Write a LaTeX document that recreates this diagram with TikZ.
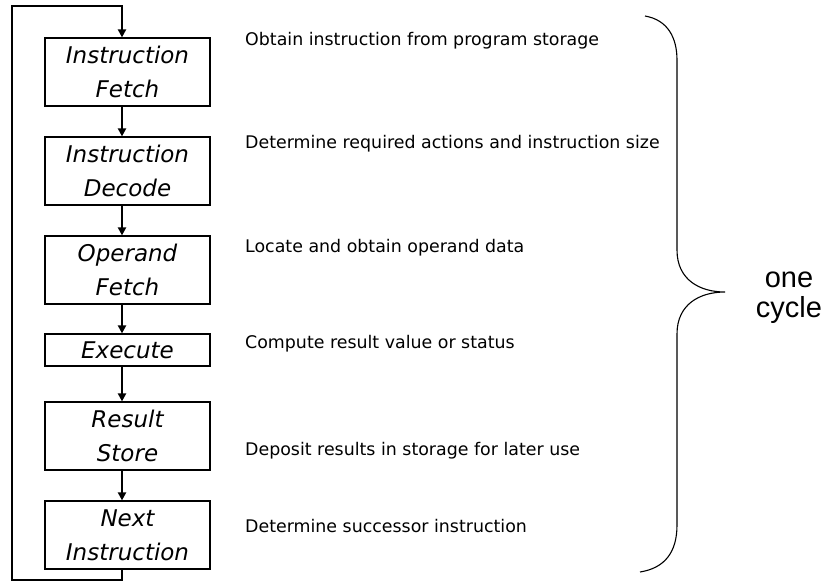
\documentclass[tikz,border=0pt]{standalone}
\usepackage{fontspec}
\setmainfont{DejaVu Sans}
\newfontfamily\armfont{Liberation Sans}
\usetikzlibrary{arrows.meta}
\begin{document}
\begin{tikzpicture}[x=1pt,y=-1pt,
  stagebox/.style={draw=black,line width=1.2pt,minimum width=165pt,inner sep=0pt,align=center,
    font=\fontsize{23}{34}\selectfont\itshape},
  flow/.style={line width=2pt,-{Triangle[length=8pt,width=8pt]}},
  desc/.style={anchor=base west,inner sep=0pt,font=\fontsize{17.4}{20}\selectfont}]
\useasboundingbox (0,0) rectangle (831,582);
% boxes
\node[stagebox,minimum height=68pt] (b1) at (127.5,72) {Instruction\\Fetch};
\node[stagebox,minimum height=68pt] (b2) at (127.5,171) {Instruction\\Decode};
\node[stagebox,minimum height=68pt] (b3) at (127.5,270) {Operand\\Fetch};
\node[stagebox,minimum height=32pt] (b4) at (127.5,350) {Execute};
\node[stagebox,minimum height=68pt] (b5) at (127.5,436) {Result\\Store};
\node[stagebox,minimum height=68pt] (b6) at (127.5,535) {Next\\Instruction};
% arrows
\draw[flow] ([xshift=-5.5pt]b1.south) -- ([xshift=-5.5pt]b2.north);
\draw[flow] ([xshift=-5.5pt]b2.south) -- ([xshift=-5.5pt]b3.north);
\draw[flow] ([xshift=-5.5pt]b3.south) -- ([xshift=-5.5pt]b4.north);
\draw[flow] ([xshift=-5.5pt]b4.south) -- ([xshift=-5.5pt]b5.north);
\draw[flow] ([xshift=-5.5pt]b5.south) -- ([xshift=-5.5pt]b6.north);
\coordinate (lb) at (12,580);
\coordinate (lt) at (12,6);
\draw[flow] ([xshift=-5.5pt]b6.south) |- (lb) -- (lt) -| ([xshift=-5.5pt]b1.north);
% descriptions
\node[desc] (d1) at (245,45) {Obtain instruction from program storage};
\node[desc] (d2) at (245,148) {Determine required actions and instruction size};
\node[desc] (d3) at (245,252) {Locate and obtain operand data};
\node[desc] (d4) at (245,348) {Compute result value or status};
\node[desc] (d5) at (245,455) {Deposit results in storage for later use};
\node[desc] (d6) at (245,532) {Determine successor instruction};
% brace
\draw[line width=1.1pt] (645,16) .. controls (668,20) and (677,38) .. (677,60)
  -- (677,250) .. controls (677,280) and (700,292) .. (725,292)
  .. controls (700,292) and (677,304) .. (677,334)
  -- (677,525) .. controls (677,552) and (665,568) .. (640,572);
\node[anchor=base,inner sep=0pt,align=center,font=\armfont\fontsize{29}{30}\selectfont] (oc) at (789,317) {one\\cycle};
\end{tikzpicture}
\end{document}
